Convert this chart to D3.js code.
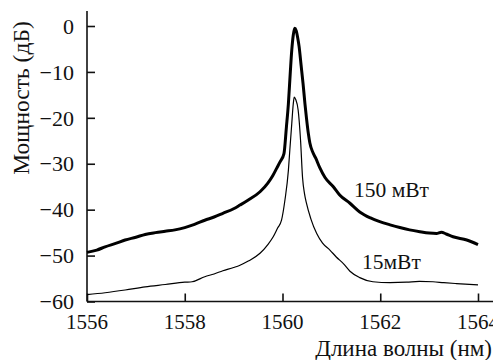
<!DOCTYPE html>
<html><head><meta charset="utf-8">
<script src="https://cdn.jsdelivr.net/npm/d3@7"></script>
<style>
html,body{margin:0;padding:0;background:#fff;}
svg{display:block;}
</style></head>
<body>
<svg id="chart" width="493" height="360"></svg>
<script>
// Data
const xTicks = [1556, 1558, 1560, 1562, 1564];
const yTicks = [0, -10, -20, -30, -40, -50, -60];
const wl150 = [1556.0,1556.2,1556.37,1556.6,1556.78,1557.0,1557.19,1557.4,1557.6,1557.8,1558.0,1558.2,1558.41,1558.6,1558.78,1559.0,1559.13,1559.3,1559.54,1559.7,1559.8,1559.88,1559.95,1560.03,1560.08,1560.12,1560.16,1560.19,1560.22,1560.25,1560.28,1560.31,1560.34,1560.38,1560.42,1560.46,1560.49,1560.53,1560.56,1560.62,1560.68,1560.76,1560.87,1561.04,1561.17,1561.38,1561.58,1561.8,1561.99,1562.2,1562.4,1562.6,1562.81,1563.0,1563.15,1563.25,1563.35,1563.49,1563.77,1564.0];
const db150 = [-49.3,-48.8,-48.1,-47.3,-46.6,-46.0,-45.4,-45.0,-44.7,-44.4,-43.9,-43.2,-42.3,-41.6,-40.8,-39.8,-39.0,-37.9,-36.1,-34.2,-32.6,-31.0,-29.6,-27.8,-22.0,-17.0,-10.0,-5.2,-2.0,-0.5,-1.0,-2.5,-4.5,-8.5,-12.5,-17.0,-20.0,-23.5,-25.5,-27.5,-28.8,-30.8,-33.0,-35.0,-36.8,-38.6,-40.5,-41.8,-42.6,-43.3,-43.9,-44.4,-44.8,-45.1,-45.2,-44.9,-45.3,-45.9,-46.6,-47.6];
const wl15 = [1556.0,1556.37,1556.78,1557.19,1557.6,1558.0,1558.15,1558.41,1558.6,1558.78,1559.0,1559.13,1559.3,1559.54,1559.7,1559.81,1559.9,1559.98,1560.05,1560.12,1560.15,1560.19,1560.22,1560.24,1560.27,1560.32,1560.37,1560.41,1560.45,1560.49,1560.58,1560.70,1560.82,1560.97,1561.1,1561.25,1561.38,1561.58,1561.85,1562.2,1562.54,1562.8,1563.08,1563.3,1563.56,1564.0];
const db15 = [-58.5,-58.1,-57.5,-56.8,-56.3,-55.8,-55.7,-54.6,-54.0,-53.3,-52.6,-52.1,-51.2,-49.5,-47.6,-45.9,-44.0,-42.3,-37.9,-31.5,-27.0,-21.2,-17.0,-15.5,-16.0,-18.3,-25.0,-33.0,-36.5,-38.6,-42.0,-45.2,-47.3,-48.8,-50.3,-51.8,-53.4,-54.8,-55.7,-55.9,-55.8,-55.6,-55.7,-55.9,-56.1,-56.4];

const FONT = "'Liberation Serif', 'Times New Roman', Times, serif";
const svg = d3.select("#chart").attr("font-family", FONT);
const x = d3.scaleLinear().domain([1556, 1564]).range([87, 478]);
const y = d3.scaleLinear().domain([-60, 0]).range([301.5, 26]);

// axes lines
svg.append("line").attr("x1", x(1556)).attr("x2", 493).attr("y1", y(-60)).attr("y2", y(-60))
  .attr("stroke", "#111").attr("stroke-width", 1.6);
svg.append("line").attr("x1", x(1556)).attr("x2", x(1556)).attr("y1", y(-60)).attr("y2", 11)
  .attr("stroke", "#111").attr("stroke-width", 1.6);

const fmt = d => d < 0 ? "\u2212" + Math.abs(d) : String(d);

const yAxis = d3.axisRight(y).tickValues(yTicks).tickSize(8).tickFormat("");
const gy = svg.append("g").attr("transform", `translate(${x(1556)},0)`).call(yAxis);
gy.select(".domain").remove();
gy.selectAll(".tick line").attr("stroke", "#111").attr("stroke-width", 1.6);

svg.append("g").selectAll("text").data(yTicks).join("text")
  .attr("font-family", FONT).attr("fill", "#111")
  .attr("x", 74).attr("y", d => y(d)).attr("dy", "0.35em")
  .attr("text-anchor", "end").attr("font-size", 22).text(fmt);

const xAxis = d3.axisTop(x).tickValues(xTicks).tickSize(8).tickFormat("");
const gx = svg.append("g").attr("transform", `translate(0,${y(-60)})`).call(xAxis);
gx.select(".domain").remove();
gx.selectAll(".tick line").attr("stroke", "#111").attr("stroke-width", 1.6);

svg.append("g").selectAll("text").data(xTicks).join("text")
  .attr("font-family", FONT).attr("fill", "#111")
  .attr("x", d => x(d)).attr("y", 329)
  .attr("text-anchor", "middle").attr("font-size", 21).text(d => d);

const line = d3.line().curve(d3.curveMonotoneX);
svg.append("path").datum(wl150.map((w, i) => [x(w), y(db150[i])]))
  .attr("d", line).attr("fill", "none").attr("stroke", "#000").attr("stroke-width", 3).attr("stroke-linejoin", "round");
svg.append("path").datum(wl15.map((w, i) => [x(w), y(db15[i])]))
  .attr("d", line).attr("fill", "none").attr("stroke", "#000").attr("stroke-width", 1.2).attr("stroke-linejoin", "round");

svg.append("text").attr("font-family", FONT).attr("fill", "#111")
  .attr("x", 354).attr("y", 197).attr("font-size", 21.5).text("150 мВт");
svg.append("text").attr("font-family", FONT).attr("fill", "#111")
  .attr("x", 362).attr("y", 269).attr("font-size", 21.5).text("15мВт");

svg.append("text").attr("font-family", FONT).attr("fill", "#111")
  .attr("transform", "translate(29,98) rotate(-90)")
  .attr("text-anchor", "middle").attr("font-size", 23.5).text("Мощность (дБ)");
svg.append("text").attr("font-family", FONT).attr("fill", "#111")
  .attr("x", 492).attr("y", 356).attr("text-anchor", "end")
  .attr("font-size", 23).text("Длина волны (нм)");
</script>
</body></html>
